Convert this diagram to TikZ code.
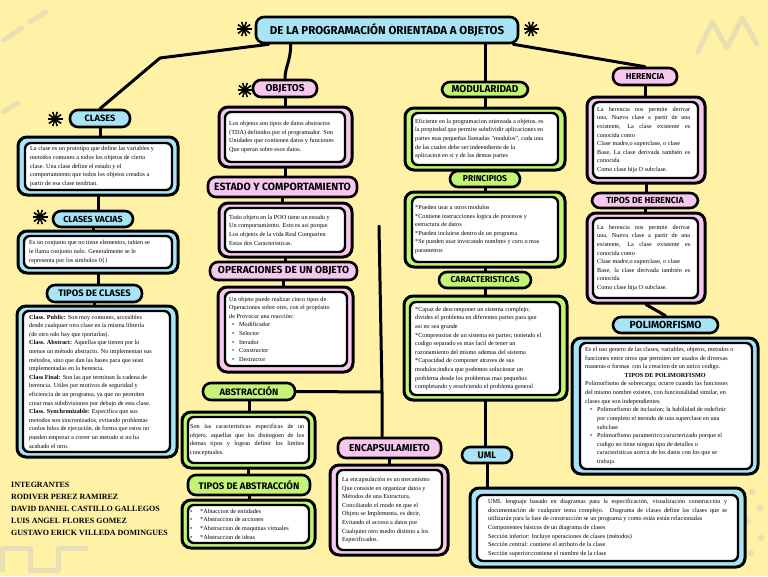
\documentclass[tikz,border=0pt]{standalone}
\usepackage{fontspec}
\setmainfont{Liberation Serif}
\newfontfamily\hdrfont{Fira Sans}
\usetikzlibrary{calc}
\pgfdeclarelayer{bg}
\pgfdeclarelayer{lines}
\pgfsetlayers{bg,lines,main}
\definecolor{bgy}{RGB}{255,242,166}
\definecolor{bfill}{RGB}{168,228,246}
\definecolor{pfill}{RGB}{246,200,238}
\definecolor{gfill}{RGB}{196,244,118}
\definecolor{deco}{RGB}{232,224,178}
\tikzset{
  lbl/.style={draw=black, line width=2.6pt, rounded corners=8pt, inner sep=0pt, font=\hdrfont\bfseries},
  obx/.style={draw=black, line width=3pt, rounded corners=9pt, inner sep=0pt},
  ibx/.style={draw=black, fill=white, line width=2.4pt, rounded corners=6pt, inner sep=0pt},
  conn/.style={line width=3pt, line cap=round, line join=round},
  txt/.style={font=\fontsize{6.2}{8.6}\selectfont, inner sep=0pt, anchor=west, align=left},
  jtxt/.style={font=\fontsize{6.2}{8.6}\selectfont, inner sep=0pt, anchor=west, align=justify},
  decoline/.style={deco, line width=5pt, line cap=round, line join=round},
}
\newcommand\lab[8]{\node[lbl,fill=#2,minimum width={(#5-#3)*1pt},minimum height={(#6-#4)*1pt}] (#1) at ({(#3+#5)/2},{(#4+#6)/2}) {\fontsize{#8}{#8}\selectfont #7};}
\newcommand\obox[6]{\node[obx,fill=#2,minimum width={(#5-#3)*1pt},minimum height={(#6-#4)*1pt}] (#1) at ({(#3+#5)/2},{(#4+#6)/2}) {};}
\newcommand\ibox[5]{\node[ibx,minimum width={(#4-#2)*1pt},minimum height={(#5-#3)*1pt}] (#1) at ({(#2+#4)/2},{(#3+#5)/2}) {};}
\newcommand\burst[2]{\fill (#1,#2) circle (2);
  \foreach \a in {0,36,72,108,144} \draw[line width=1.6pt] ($(#1,#2)+(\a:7.5)$) -- ($(#1,#2)+(\a+180:7.5)$);}
\newcommand\bul{\makebox[7pt][l]{\textbullet}}
\begin{document}
\begin{tikzpicture}[x=1pt,y=-1pt]
\useasboundingbox (0,0) rectangle (768,576);
\begin{pgfonlayer}{bg}
\fill[bgy] (0,0) rectangle (768,576);
\draw[decoline] (698,52) -- (712,22) -- (727,48) -- (742,18) -- (757,44);
\draw[decoline] (4,40) -- (22,28);
\draw[decoline] (30,22) -- (46,12);
\draw[decoline] (3,112) -- (18,103);
\draw[decoline] (2,570) -- (2,548) -- (30,548) -- (30,570) -- (58,570) -- (58,548) -- (86,548);
\foreach \p in {(752,492),(760,508),(748,522),(761,538),(751,553)} \fill[deco] \p circle (3.2);
\end{pgfonlayer}

% ---------- labels ----------
\lab{title}{bfill}{256}{17}{518}{43}{DE LA PROGRAMACIÓN ORIENTADA A OBJETOS}{11.5}
\lab{lClases}{bfill}{70}{110}{130}{127}{CLASES}{9.2}
\lab{lVacias}{bfill}{53}{211}{133}{227}{CLASES VACIAS}{8.8}
\lab{lTiposC}{bfill}{47}{285}{142}{302}{TIPOS DE CLASES}{9.4}
\lab{lObj}{pfill}{253}{80}{317}{97}{OBJETOS}{10}
\lab{lEst}{pfill}{208}{177}{357}{197}{ESTADO Y COMPORTAMIENTO}{10.5}
\lab{lOper}{pfill}{210}{262}{357}{280}{OPERACIONES DE UN OBJETO}{10.2}
\lab{lAbs}{gfill}{203}{383}{295}{400}{ABSTRACCIÓN}{9.4}
\lab{lTiposA}{gfill}{188}{475}{310}{495}{TIPOS DE ABSTRACCIÓN}{9.5}
\lab{lEncap}{pfill}{338}{438}{441}{458}{ENCAPSULAMIETO}{10}
\lab{lModul}{gfill}{442}{82}{528}{97}{MODULARIDAD}{10}
\lab{lPrinc}{gfill}{450}{171}{520}{187}{PRINCIPIOS}{8.5}
\lab{lCarac}{gfill}{439}{272}{531}{288}{CARACTERISTICAS}{8.6}
\lab{lUML}{bfill}{462}{447}{512}{463}{UML}{9.5}
\lab{lHer}{pfill}{613}{68}{677}{85}{HERENCIA}{8.6}
\lab{lTiposH}{pfill}{592}{193}{698}{208}{TIPOS DE HERENCIA}{8.8}
\lab{lPoli}{bfill}{613}{317}{718}{333}{POLIMORFISMO}{10.3}

% ---------- boxes ----------
\obox{bClases}{bfill}{18}{137}{178}{195}  \ibox{iClases}{25}{143}{172}{190}
\obox{bVacias}{bfill}{18}{231}{178}{273}  \ibox{iVacias}{24}{236}{172}{268}
\obox{bTiposC}{bfill}{17}{306}{177}{457}  \ibox{iTiposC}{23}{311}{170}{452}
\obox{bObj}{pfill}{219}{107}{352}{167}    \ibox{iObj}{225}{112}{345}{162}
\obox{bEst}{pfill}{219}{203}{352}{257}    \ibox{iEst}{225}{208}{345}{252}
\obox{bOper}{pfill}{218}{287}{353}{372}   \ibox{iOper}{225}{292}{347}{366}
\obox{bAbs}{gfill}{182}{412}{315}{468}    \ibox{iAbs}{188}{417}{309}{463}
\obox{bTiposA}{gfill}{182}{500}{315}{548} \ibox{iTiposA}{188}{505}{309}{543}
\obox{bEncap}{pfill}{330}{465}{448}{555}  \ibox{iEncap}{337}{470}{442}{550}
\obox{bModul}{gfill}{405}{108}{565}{170}  \ibox{iModul}{412}{113}{558}{165}
\obox{bPrinc}{gfill}{405}{192}{565}{267}  \ibox{iPrinc}{412}{197}{558}{262}
\obox{bCarac}{gfill}{404}{296}{567}{400}  \ibox{iCarac}{410}{302}{560}{395}
\obox{bUML}{bfill}{470}{488}{745}{567}    \ibox{iUML}{477}{495}{738}{561}
\obox{bHer}{pfill}{587}{97}{705}{183}     \ibox{iHer}{593}{102}{698}{178}
\obox{bTiposH}{pfill}{587}{213}{705}{303} \ibox{iTiposH}{593}{218}{698}{298}
\obox{bPoli}{bfill}{572}{338}{758}{474}   \ibox{iPoli}{580}{343}{752}{469}

% ---------- stars ----------
\burst{244}{29}
\burst{531}{29}
\burst{55}{119}
\burst{40}{217}
\burst{245}{90}

% ---------- texts ----------
\node[txt] (tClases) at (30,166.5) {La clase es un prototipo que define las variables y\\metodos comunes a todos los objetos de cierta\\clase. Una clase define el estado y el\\comportamiento que todos los objetos creados a\\partir de esa clase tendrian.};
\node[txt] (tVacias) at (29,252) {Es un conjunto que no tiene elementos, tabien se\\le llama conjunto nulo. Generalmente se le\\representa por los simbolos 0\{\}};
\node[txt] (tTiposC) at (29,381.5) {\textbf{Class. Public:} Son muy comunes, accesibles\\desde cualquier otra clase en la misma librería\\(de otro odo hay que iportarlas).\\\textbf{Class. Abstract:} Aquellas que tienen por lo\\menos un método abstracto. No implementan sus\\métodos, sino que dan las bases para que sean\\implementadas en la herencia.\\\textbf{Class Final:} Son las que terminan la cadena de\\herencia. Utiles por motivos de seguridad y\\eficiencia de un programa, ya que no permiten\\crear mas subdivisiones por debajo de esta clase.\\\textbf{Class. Synchronizable:} Especifica que sus\\metodos son sincronizados, evitando problemas\\conlos hilos de ejecución, de forma que estos no\\pueden empezar a correr un metodo si no ha\\acabado el otro.};
\node[txt] (tObj) at (229,137) {Los objetos son tipos de datos abstractos\\(TDA) definidos por el programador. Son\\Unidades que contienen datos y funciones\\Que operan sobre esos datos.};
\node[txt] (tEst) at (229,230) {Todo objeto en la POO tiene un estado y\\Un comportamiento. Esto es así porque\\Los objetos de la vida Real Comparten\\Estas dos Caracteristicas.};
\node[txt] (tOper) at (229,329) {Un objeto puede realizar cinco tipos de\\Operaciones sobre otro, con el propósito\\de Provocar una reacción:\\\hspace*{3pt}\bul Modificador\\\hspace*{3pt}\bul Selector\\\hspace*{3pt}\bul Iterador\\\hspace*{3pt}\bul Constructor\\\hspace*{3pt}\bul Destructor};
\node[jtxt, text width=114pt] (tAbs) at (190,440) {\noindent Son las caracteristicas especificas de un\linebreak objeto, aquellas que los distinguen de los\linebreak demas tipos y logran definir los limites\linebreak conceptuales.};
\node[txt] (tTiposA) at (190,524) {\makebox[10pt][l]{\textbullet}*Abtaccion de entidades\\\makebox[10pt][l]{\textbullet}*Abstraccion de acciones\\\makebox[10pt][l]{\textbullet}*Abstraccion de maquinas virtuales\\\makebox[10pt][l]{\textbullet}*Abstraccion de ideas};
\node[txt] (tEncap) at (342,510) {La encapsulación es un mecanismo\\Que consiste en organizar datos y\\Métodos de una Estructura,\\Conciliando el modo en que el\\Objeto se Implementa, es decir,\\Evitando el acceso a datos por\\Cualquier otro medio distinto a los\\Especificados.};
\node[txt] (tModul) at (415,139) {Eficiente en la programacion orientada a objetos, es\\la propiedad que permite subdividir aplicaciones en\\partes mas pequeñas llamadas "modulos", cada una\\de las cuales debe ser indeendiente de la\\aplicacion en si y de las demas partes};
\node[txt] (tPrinc) at (415,229.5) {*Pueden usar a otros modulos\\*Contiene instrucciones logica de procesos y\\estructura de datos\\*Pueden incluirse dentro de un programa\\*Se pueden usar invocando nombres y cero o mas\\parametros};
\node[txt] (tCarac) at (415,348.5) {*Capaz de descomponer un sistema complejo;\\divides el problema en diferentes partes para que\\asi no sea grande\\*Comprension de un sistema en partes; teniendo el\\codigo separado es mas facil de tener un\\razonamiento del mismo ademas del sistema\\*Capacidad de componer atraves de sus\\modulos;indica que podemos solucionar un\\problema desde los problemas mas pequeños\\completando y resolviendo el problema general};
\node[jtxt, text width=93pt] (tHer) at (597,140) {\noindent La herencia nos permite derivar\linebreak una, Nueva clase a partir de una\linebreak existente, La clase existente es\linebreak conocida como\newline Clase madre,o superclase, o clase\newline Base, La clase derivada también es\linebreak conocida\newline Como clase hija O subclase.};
\node[jtxt, text width=93pt] (tTiposH) at (597,258) {\noindent La herencia nos permite derivar\linebreak una, Nueva clase a partir de una\linebreak existente, La clase existente es\linebreak conocida como\newline Clase madre,o superclase, o clase\newline Base, la clase derivada también es\linebreak conocida\newline Como clase hija O subclase.};
\node[txt] (tPoli) at (585,406) {Es el uso genero de las clases, variables, objetos, metodos o\\funciones entre otros que permiten ser usados de diversas\\maneras o formas\ \ con la creacion de un unico codigo.\\\makebox[160pt][c]{\textbf{TIPOS DE POLIMORFISMO}}\\Polimorfismo de sobrecarga; ocurre cuando las funciones\\del mismo nombre existen, con funcionalidad similar, en\\clases que son independientes.\\\hspace*{5pt}\bul Polimorfismo de inclusion; la habilidad de redefinir\\\hspace*{12pt}por completo el metodo de una superclase en una\\\hspace*{12pt}subclase\\\hspace*{5pt}\bul Polimorfismo parametrico;caracterizado porque el\\\hspace*{12pt}codigo no tiene ningun tipo de detalles o\\\hspace*{12pt}caracteristicas acerca de los datos con los que se\\\hspace*{12pt}trabaja};
\node[jtxt, text width=239pt] (tUML) at (488,528) {\noindent UML lenguaje basado en diagramas para la especificación, visualización construcción y\linebreak documentación de cualquier tema complejo. Diagrama de clases define las clases que se\linebreak utilizarán para la fase de construcción se un programa y como estás están relacionadas\newline Componentes básicos de un diagrama de clases\newline Sección inferior: Incluye operaciones de clases (métodos)\newline Sección central: contiene el atributo de la clase\newline Sección superior:contiene el nombre de la clase};
\node[anchor=north west, inner sep=0pt, align=left, font=\fontsize{8}{12}\selectfont\bfseries] (integr) at (11,482) {INTEGRANTES\\RODIVER PEREZ RAMIREZ\\DAVID DANIEL CASTILLO GALLEGOS\\LUIS ANGEL FLORES GOMEZ\\GUSTAVO ERICK VILLEDA DOMINGUES};

\coordinate (encTop) at (379,226);
\coordinate (absJoin) at (382,392);

% ---------- connectors ----------
\begin{pgfonlayer}{lines}
\draw[conn] ($(title.south west)+(14,0)$) -- (160,58) -- (lClases.north);
\draw[conn] ($(title.south west)+(36,0)$) .. controls +(0,17) and +(0,-12) .. (lObj.north);
\draw[conn] (encTop) -- (absJoin) -- (absJoin |- lEncap.north);
\draw[conn] (lAbs.east) -- (absJoin);
\draw[conn] (title.south -| lModul.north) -- (lModul.north);
\draw[conn] ($(title.south east)+(-6,0)$) -- (lHer.north);
\draw[conn] (lClases.south) -- (lClases.south |- bClases.north);
\draw[conn] (bClases.south) -- (bClases.south |- lVacias.north);
\draw[conn] (lVacias.south) -- (lVacias.south |- bVacias.north);
\draw[conn] (bVacias.south) -- (bVacias.south |- lTiposC.north);
\draw[conn] (lTiposC.south) -- (lTiposC.south |- bTiposC.north);
\draw[conn] (lObj.south) -- (lObj.south |- bObj.north);
\draw[conn] (bObj.south) -- (bObj.south |- lEst.north);
\draw[conn] (lEst.south) -- (lEst.south |- bEst.north);
\draw[conn] (bEst.south) -- (bEst.south |- lOper.north);
\draw[conn] (lOper.south) -- (lOper.south |- bOper.north);
\draw[conn] (lAbs.south) -- (lAbs.south |- bAbs.north);
\draw[conn] (bAbs.south) -- (bAbs.south |- lTiposA.north);
\draw[conn] (lTiposA.south) -- (lTiposA.south |- bTiposA.north);
\draw[conn] (lEncap.south) -- (lEncap.south |- bEncap.north);
\draw[conn] (lModul.south) -- (lModul.south |- bModul.north);
\draw[conn] (bModul.south) -- (bModul.south |- lPrinc.north);
\draw[conn] (lPrinc.south) -- (lPrinc.south |- bPrinc.north);
\draw[conn] (bPrinc.south) -- (bPrinc.south |- lCarac.north);
\draw[conn] (lCarac.south) -- (lCarac.south |- bCarac.north);
\draw[conn] (bCarac.south) -- (bCarac.south |- lUML.north);
\draw[conn] (lUML.south) -- (lUML.south |- bUML.north);
\draw[conn] (lHer.south) -- (lHer.south |- bHer.north);
\draw[conn] (bHer.south) -- (bHer.south |- lTiposH.north);
\draw[conn] (lTiposH.south) -- (lTiposH.south |- bTiposH.north);
\draw[conn] (bTiposH.south) -- (lPoli.north);
\end{pgfonlayer}
\end{tikzpicture}
\end{document}
